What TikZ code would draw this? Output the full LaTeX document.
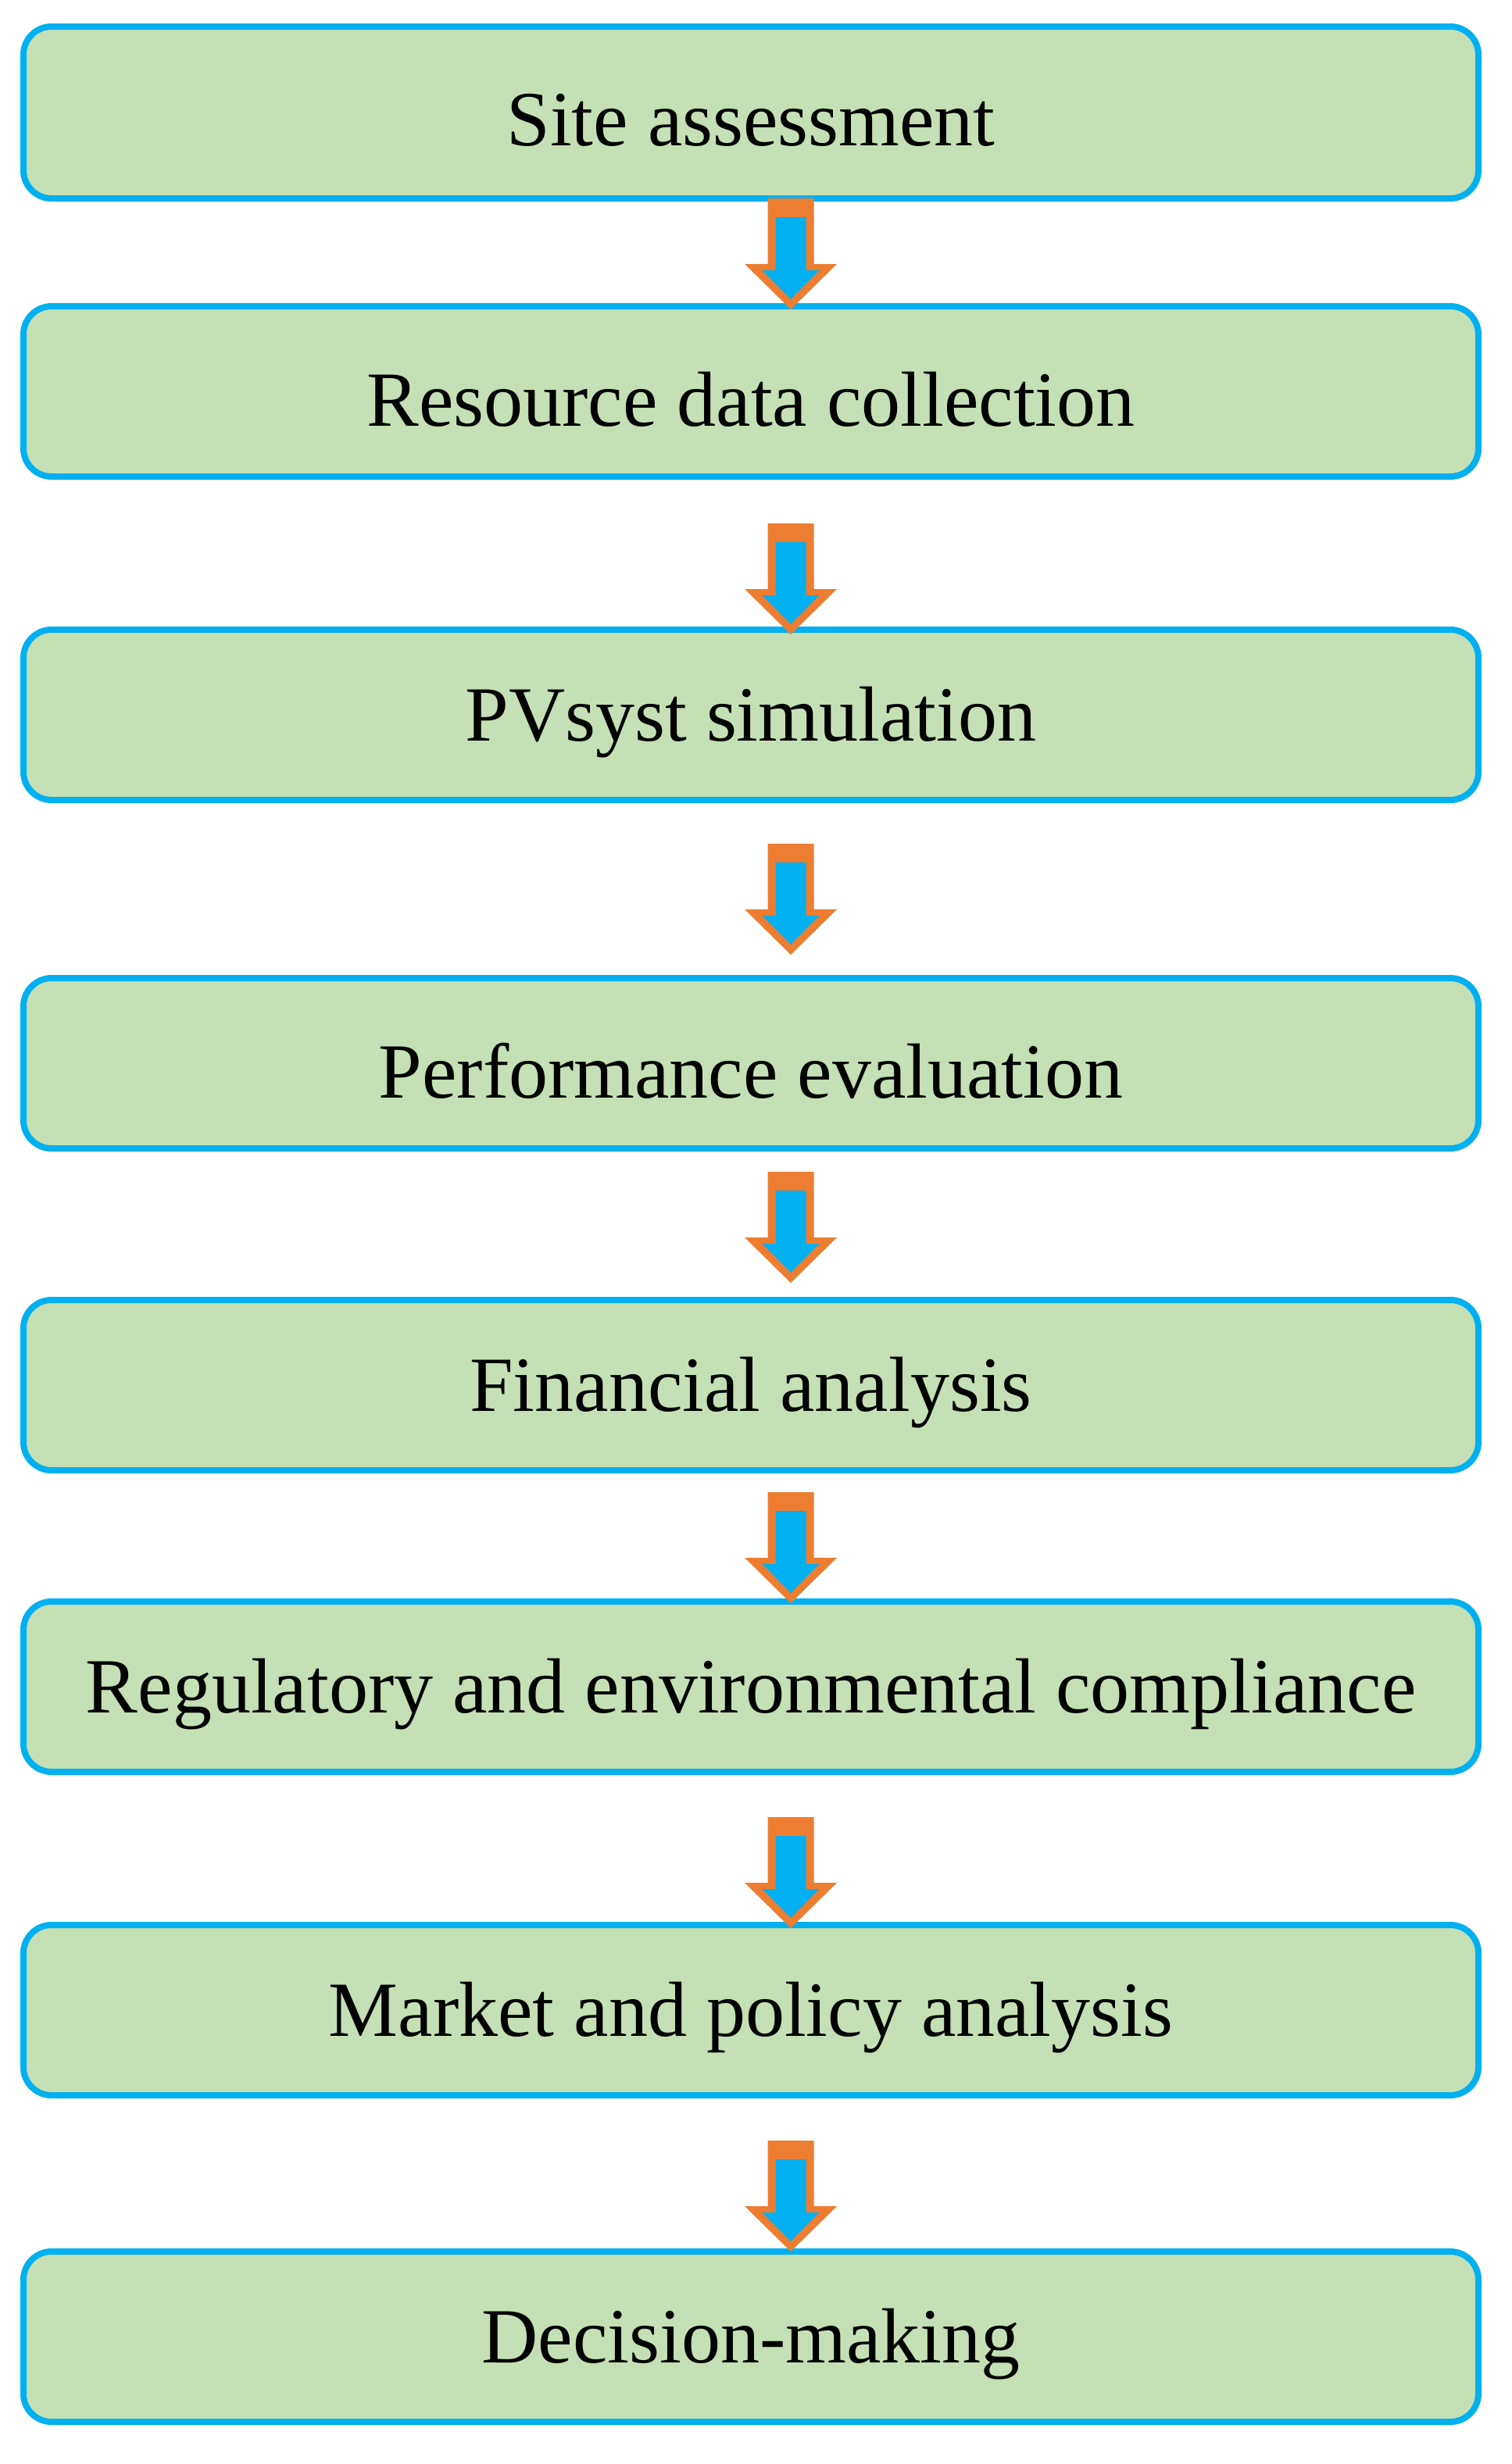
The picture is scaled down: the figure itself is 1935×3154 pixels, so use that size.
\documentclass[tikz,border=0pt]{standalone}
\usepackage{fontspec}
\setmainfont{Liberation Serif}
\begin{document}
\begin{tikzpicture}[x=1pt,y=-1pt,
 box/.style={draw=cyanb,fill=greenb,line width=8pt,rounded corners=36pt,minimum width=1862pt,inner sep=0pt},
 lbl/.style={font=\fontsize{100}{104}\selectfont,anchor=center},
]
\definecolor{cyanb}{HTML}{00B0F0}
\definecolor{greenb}{HTML}{C5E0B4}
\definecolor{orangeb}{HTML}{ED7D31}
\useasboundingbox (0,0) rectangle (1935,3154);
\newcommand\bx[4]{\node[box,minimum height={#3-#2}] (#1) at (961,{(#2+#3)/2}) {};
 \node[lbl] (#1t) at ([yshift=-10pt]#1.center) {#4};}
\bx{a}{34}{254}{Site assessment}
\bx{b}{392}{610}{Resource data collection}
\bx{c}{806}{1024}{PVsyst simulation}
\bx{d}{1252}{1470}{Performance evaluation}
\bx{e}{1664}{1882}{Financial analysis}
\bx{f}{2050}{2268}{Regulatory and environmental compliance}
\bx{g}{2464}{2682}{Market and policy analysis}
\bx{h}{2882}{3100}{Decision-making}
\newcommand\arr[1]{%
 \fill[orangeb] (1012,#1) ++(-29.5,0) -- ++(59,0) -- ++(0,84) -- ++(29.5,0) -- ++(-59,58) -- ++(-59,-58) -- ++(29.5,0) -- cycle;
 \fill[cyanb] (1012,#1) ++(-19.5,24) -- ++(39,0) -- ++(0,68) -- ++(17,0) -- ++(-36.5,37) -- ++(-36.5,-37) -- ++(17,0) -- cycle;}
\arr{254}
\arr{670}
\arr{1080}
\arr{1500}
\arr{1910}
\arr{2326}
\arr{2740}
\end{tikzpicture}
\end{document}
